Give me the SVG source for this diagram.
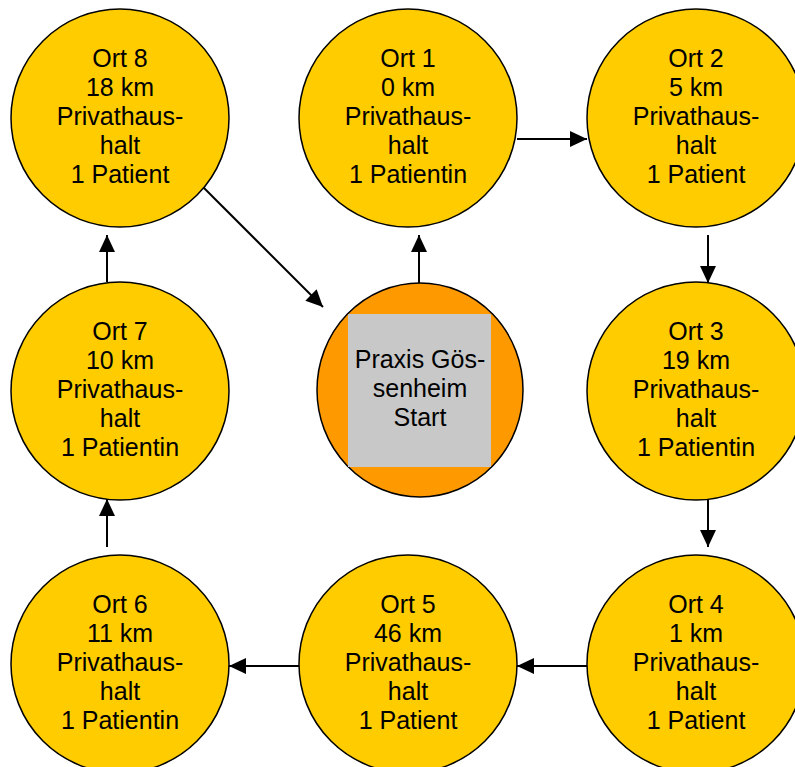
<svg xmlns="http://www.w3.org/2000/svg" width="795" height="767" viewBox="0 0 795 767">
<style>
.n{fill:#FFCC00;stroke:#000;stroke-width:1.5}
.s{fill:#FF9900;stroke:#000;stroke-width:1.5}
.g{fill:#C8C8C8}
text{font-family:"Liberation Sans",Arial,sans-serif;font-size:25px;fill:#000;text-anchor:middle}
.c line{stroke:#000;stroke-width:2;marker-end:url(#ah)}
</style>
<defs>
<marker id="ah" markerUnits="userSpaceOnUse" markerWidth="17" markerHeight="16" refX="17" refY="8" orient="auto">
<path d="M0,0 L17,8 L0,16 z" fill="#000"/>
</marker>
</defs>
<g id="connectors" class="c">
<line x1="419" y1="283" x2="419" y2="235"/>
<line x1="517" y1="139" x2="587" y2="139"/>
<line x1="708" y1="235" x2="708" y2="283"/>
<line x1="708" y1="499" x2="708" y2="547"/>
<line x1="587" y1="666" x2="517" y2="666"/>
<line x1="299" y1="666" x2="229" y2="666"/>
<line x1="107" y1="547" x2="107" y2="499"/>
<line x1="107" y1="282" x2="107" y2="235"/>
<line x1="203" y1="187" x2="323" y2="307"/>
</g>
<g id="praxis">
<ellipse class="s" cx="420" cy="390" rx="103" ry="107"/>
<rect class="g" x="348" y="314" width="143" height="153"/>
<text x="420" y="368">Praxis Gös-</text>
<text x="420" y="397">senheim</text>
<text x="420" y="426">Start</text>
</g>
<g id="ort1">
<circle class="n" cx="408" cy="118" r="109"/>
<text x="408" y="67">Ort 1</text><text x="408" y="96">0 km</text><text x="408" y="125">Privathaus-</text><text x="408" y="154">halt</text><text x="408" y="183">1 Patientin</text>
</g>
<g id="ort2">
<circle class="n" cx="696" cy="118" r="109"/>
<text x="696" y="67">Ort 2</text><text x="696" y="96">5 km</text><text x="696" y="125">Privathaus-</text><text x="696" y="154">halt</text><text x="696" y="183">1 Patient</text>
</g>
<g id="ort3">
<circle class="n" cx="696" cy="391" r="109"/>
<text x="696" y="340">Ort 3</text><text x="696" y="369">19 km</text><text x="696" y="398">Privathaus-</text><text x="696" y="427">halt</text><text x="696" y="456">1 Patientin</text>
</g>
<g id="ort4">
<circle class="n" cx="696" cy="664" r="109"/>
<text x="696" y="613">Ort 4</text><text x="696" y="642">1 km</text><text x="696" y="671">Privathaus-</text><text x="696" y="700">halt</text><text x="696" y="729">1 Patient</text>
</g>
<g id="ort5">
<circle class="n" cx="408" cy="664" r="109"/>
<text x="408" y="613">Ort 5</text><text x="408" y="642">46 km</text><text x="408" y="671">Privathaus-</text><text x="408" y="700">halt</text><text x="408" y="729">1 Patient</text>
</g>
<g id="ort6">
<circle class="n" cx="120" cy="664" r="109"/>
<text x="120" y="613">Ort 6</text><text x="120" y="642">11 km</text><text x="120" y="671">Privathaus-</text><text x="120" y="700">halt</text><text x="120" y="729">1 Patientin</text>
</g>
<g id="ort7">
<circle class="n" cx="120" cy="391" r="109"/>
<text x="120" y="340">Ort 7</text><text x="120" y="369">10 km</text><text x="120" y="398">Privathaus-</text><text x="120" y="427">halt</text><text x="120" y="456">1 Patientin</text>
</g>
<g id="ort8">
<circle class="n" cx="120" cy="118" r="109"/>
<text x="120" y="67">Ort 8</text><text x="120" y="96">18 km</text><text x="120" y="125">Privathaus-</text><text x="120" y="154">halt</text><text x="120" y="183">1 Patient</text>
</g>
</svg>
